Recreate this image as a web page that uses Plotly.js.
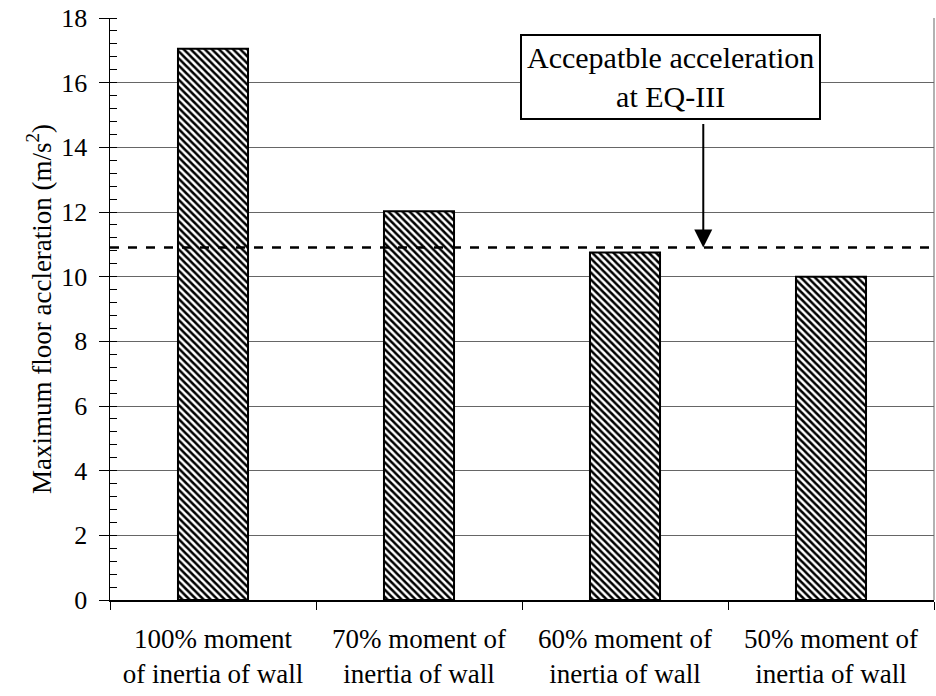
<!DOCTYPE html>
<html>
<head>
<meta charset="utf-8">
<script src="https://cdn.plot.ly/plotly-3.0.1.min.js"></script>
<style>html,body{margin:0;padding:0;background:#fff;}#chart{width:936px;height:696px;}</style>
</head>
<body>
<div id="chart"></div>
<script>
const categories = [
  "100% moment<br>of inertia of wall",
  "70% moment of<br>inertia of wall",
  "60% moment of<br>inertia of wall",
  "50% moment of<br>inertia of wall"
];
const maxFloorAcceleration = [17.05, 12.02, 10.75, 10.0];
const acceptableAcceleration = 10.9;
const annotationText = "Accepatble acceleration<br>at EQ-III";
const yTitle = "Maximum floor accleration (m/s<sup>2</sup>)";

const serif = "'Liberation Serif', 'Times New Roman', Times, 'DejaVu Serif', serif";

const trace = {
  type: "bar",
  x: categories,
  y: maxFloorAcceleration,
  width: 0.34,
  marker: {
    color: "#ffffff",
    line: {color: "#000000", width: 2},
    pattern: {shape: "\\", size: 5, solidity: 0.5, fgcolor: "#000000", bgcolor: "#ffffff", fillmode: "replace"}
  },
  hoverinfo: "skip"
};

const layout = {
  width: 936,
  height: 696,
  margin: {l: 110, r: 2, t: 18, b: 96},
  paper_bgcolor: "#ffffff",
  plot_bgcolor: "#ffffff",
  showlegend: false,
  font: {family: serif, color: "#000000", size: 26},
  xaxis: {
    type: "category",
    tickson: "boundaries",
    ticks: "outside",
    ticklen: 8,
    tickwidth: 1,
    tickcolor: "#000",
    showline: true,
    linecolor: "#000",
    linewidth: 1.5,
    showgrid: false,
    ticklabelstandoff: 14,
    tickfont: {family: serif, size: 27, color: "#000"},
    range: [-0.5, 3.5]
  },
  yaxis: {
    range: [0, 18],
    dtick: 2,
    ticks: "outside",
    ticklen: 10,
    tickwidth: 1,
    tickcolor: "#000",
    showline: true,
    linecolor: "#000",
    linewidth: 1.5,
    showgrid: true,
    gridcolor: "#666666",
    gridwidth: 1,
    zeroline: false,
    ticklabelstandoff: 6,
    tickfont: {family: serif, size: 26, color: "#000"},
    minor: {dtick: 0.4, ticks: "inside", ticklen: 7, tickcolor: "#000", tickwidth: 1, showgrid: false},
    title: {text: yTitle, font: {family: serif, size: 27, color: "#000"}, standoff: 2}
  },
  shapes: [
    {type: "line", xref: "paper", yref: "y", x0: 0, x1: 1, y0: acceptableAcceleration, y1: acceptableAcceleration,
     line: {color: "#000", width: 2.5, dash: "dash"}, layer: "above"},
    {type: "line", xref: "paper", yref: "paper", x0: 1, x1: 1, y0: 0, y1: 1,
     line: {color: "#999", width: 1.5}, layer: "below"}
  ],
  annotations: [
    {xref: "paper", yref: "paper", x: 0.498, y: 0.973, xanchor: "left", yanchor: "top",
     text: annotationText, showarrow: false, align: "center",
     font: {family: serif, size: 30, color: "#000"},
     bordercolor: "#000", borderwidth: 2, borderpad: 5, bgcolor: "#ffffff"},
    {xref: "x", yref: "y", x: 2.38, y: acceptableAcceleration, text: "", showarrow: true,
     ax: 0, ay: -125, arrowhead: 2, arrowsize: 1.8, arrowwidth: 2, arrowcolor: "#000"}
  ]
};

Plotly.newPlot("chart", [trace], layout, {displayModeBar: false, staticPlot: true});
</script>
</body>
</html>
